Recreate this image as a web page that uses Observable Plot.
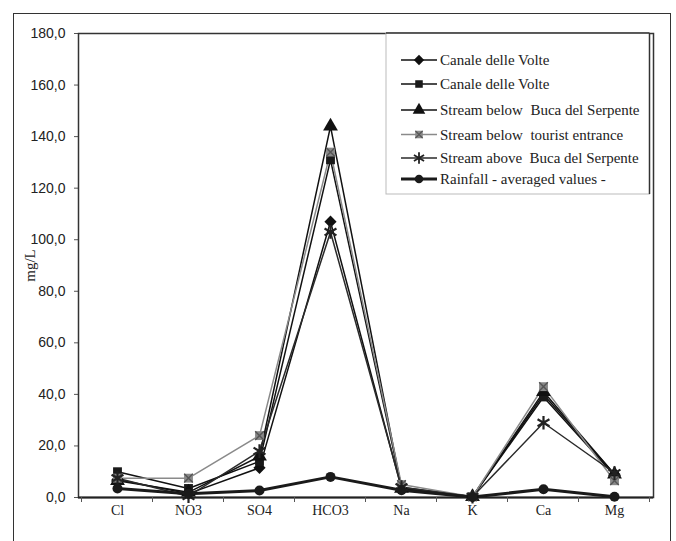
<!DOCTYPE html>
<html><head><meta charset="utf-8">
<script src="https://cdn.jsdelivr.net/npm/d3@7"></script>
<script src="https://cdn.jsdelivr.net/npm/@observablehq/plot@0.6"></script>
<style>
body{margin:0;background:#fff;}
#wrap{position:relative;width:676px;height:541px;overflow:hidden;background:#fff;}
#wrap svg{position:absolute;left:0;top:0;}
#border{position:absolute;left:13px;top:13px;width:656px;height:540px;border:1.5px solid #333;border-bottom:none;pointer-events:none;}
</style></head><body><div id="wrap"><div id="border"></div></div>
<script>
const ions = ["Cl","NO3","SO4","HCO3","Na","K","Ca","Mg"];
const seriesNames = [
  "Canale delle Volte",
  "Canale delle Volte",
  "Stream below  Buca del Serpente",
  "Stream below  tourist entrance",
  "Stream above  Buca del Serpente",
  "Rainfall - averaged values -"
];
const canaleA   = [7.0, 1.5, 11.5, 107, 3.5, 0.3, 40, 9.0];
const canaleB   = [10.0, 3.5, 14.0, 131, 4.0, 0.3, 39, 8.5];
const belowBuca = [6.5, 2.0, 16.0, 144, 3.5, 0.3, 41, 9.0];
const belowTour = [7.5, 7.5, 24.0, 134, 5.0, 0.3, 43, 6.5];
const aboveBuca = [7.5, 0.5, 18.0, 103, 4.0, 0.3, 29, 9.5];
const rainfall  = [3.5, 1.5, 2.7, 8.0, 2.8, 0.2, 3.2, 0.3];
const yTicks = [0, 20, 40, 60, 80, 100, 120, 140, 160, 180];

const allSeries = [canaleA, canaleB, belowBuca, belowTour, aboveBuca, rainfall];
const styles = [
  {symbol:"diamond2", line:"#111", lw:1.5, fill:"#111", stroke:"none", r:5.5},
  {symbol:"square",   line:"#111", lw:1.5, fill:"#1a1a1a", stroke:"none", r:5},
  {symbol:"triangle", line:"#111", lw:1.5, fill:"#111", stroke:"none", r:5.5},
  {symbol:"square",   line:"#8a8a8a", lw:1.5, fill:"#888", stroke:"none", r:5, cross:true},
  {symbol:"asterisk", line:"#2a2a2a", lw:1.5, fill:"none", stroke:"#222", r:6.5, sw:2.2},
  {symbol:"circle",   line:"#1a1a1a", lw:3, fill:"#1a1a1a", stroke:"none", r:5}
];
const table = seriesNames.map((s, k) => ions.map((ion, i) => ({series: s, k, ion, value: allSeries[k][i]})));

const marks = [
  Plot.axisY({ticks: yTicks, tickFormat: d => d.toFixed(1).replace(".", ","), tickSize: 4, tickPadding: 9,
    fontSize: 14, fontFamily: "Liberation Sans, Arial, sans-serif", fill: "#222", stroke: "#555", label: null}),
  Plot.axisX({tickSize: 0, tickPadding: 8, fontSize: 14, fontFamily: "Liberation Serif, Times New Roman, serif", fill: "#222", label: null}),
  Plot.frame({stroke: "#333", strokeWidth: 1.5}),
  Plot.ruleY([0], {stroke: "#222", strokeWidth: 2})
];
table.forEach((rows, k) => {
  const st = styles[k];
  marks.push(Plot.line(rows, {x: "ion", y: "value", stroke: st.line, strokeWidth: st.lw}));
});
table.forEach((rows, k) => {
  const st = styles[k];
  marks.push(Plot.dot(rows, {x: "ion", y: "value", symbol: () => st.symbol, r: st.r, fill: st.fill, stroke: st.stroke, strokeWidth: st.sw || 1.6}));
  if (st.cross) marks.push(Plot.dot(rows, {x: "ion", y: "value", symbol: () => "times", r: 4, stroke: "#555", strokeWidth: 1.4}));
});
marks.push(Plot.text(["mg/L"], {frameAnchor: "left", dx: -48, rotate: -90, textAnchor: "middle", lineAnchor: "middle",
  fontSize: 15, fontFamily: "Liberation Serif, Times New Roman, serif", fill: "#222"}));

const chart = Plot.plot({
  width: 676, height: 541,
  marginLeft: 78, marginRight: 23, marginTop: 33, marginBottom: 44,
  style: {background: "transparent", overflow: "visible"},
  x: {type: "point", domain: ions, padding: 0.5},
  y: {domain: [0, 180]},
  symbol: {type: "identity"},
  marks
});
document.getElementById("wrap").prepend(chart);

// category boundary ticks below the x axis, from the x scale
const sx = chart.scale("x");
const pos = ions.map(d => sx.apply(d));
const stepPx = pos[1] - pos[0];
const bounds = [pos[0] - stepPx / 2, ...pos.map(p => p + stepPx / 2)];
const sy = chart.scale("y");
const y0 = sy.apply(0);
const svg = d3.select(chart);
svg.append("g").selectAll("line").data(bounds).join("line")
  .attr("x1", d => d).attr("x2", d => d).attr("y1", y0).attr("y2", y0 + 5)
  .attr("stroke", "#555").attr("stroke-width", 1);

// legend
const legendTop = sy.apply(180);
const legendRight = sx.apply(ions[ions.length - 1]) + stepPx / 2;
const lg = svg.append("g").attr("text-anchor", "start");
lg.append("rect").attr("x", 386).attr("y", legendTop).attr("width", legendRight - 386).attr("height", 161)
  .attr("fill", "#fff").attr("stroke", "#bbb").attr("stroke-width", 1);
lg.append("line").attr("x1", legendRight).attr("x2", legendRight).attr("y1", legendTop).attr("y2", legendTop + 161)
  .attr("stroke", "#333").attr("stroke-width", 1.5);
lg.append("line").attr("x1", 386).attr("x2", legendRight).attr("y1", legendTop).attr("y2", legendTop)
  .attr("stroke", "#333").attr("stroke-width", 1.5);
const rowY = [60, 84, 110, 134.5, 158, 179];
const symMap = {diamond2: d3.symbolDiamond2, square: d3.symbolSquare, triangle: d3.symbolTriangle, asterisk: d3.symbolAsterisk, circle: d3.symbolCircle, times: d3.symbolTimes};
seriesNames.forEach((name, k) => {
  const st = styles[k];
  const g = lg.append("g").attr("transform", `translate(0,${rowY[k]})`);
  g.append("line").attr("x1", 401).attr("x2", 437).attr("y1", 0).attr("y2", 0).attr("stroke", st.line).attr("stroke-width", st.lw);
  const rr = st.r * 0.85;
  g.append("path").attr("transform", "translate(419,0)")
    .attr("d", d3.symbol(symMap[st.symbol], Math.PI * rr * rr)())
    .attr("fill", st.fill).attr("stroke", st.stroke).attr("stroke-width", st.sw ? 1.8 : 1.5);
  if (st.cross) g.append("path").attr("transform", "translate(419,0)")
    .attr("d", d3.symbol(d3.symbolTimes, Math.PI * 3.4 * 3.4)()).attr("fill", "none").attr("stroke", "#555").attr("stroke-width", 1.3);
  g.append("text").attr("x", 440).attr("y", 0).attr("dy", "0.35em").attr("text-anchor", "start")
    .attr("font-family", "Liberation Serif, Times New Roman, serif").attr("font-size", 15).attr("fill", "#222")
    .style("white-space", "pre").text(name);
});
</script></body></html>
